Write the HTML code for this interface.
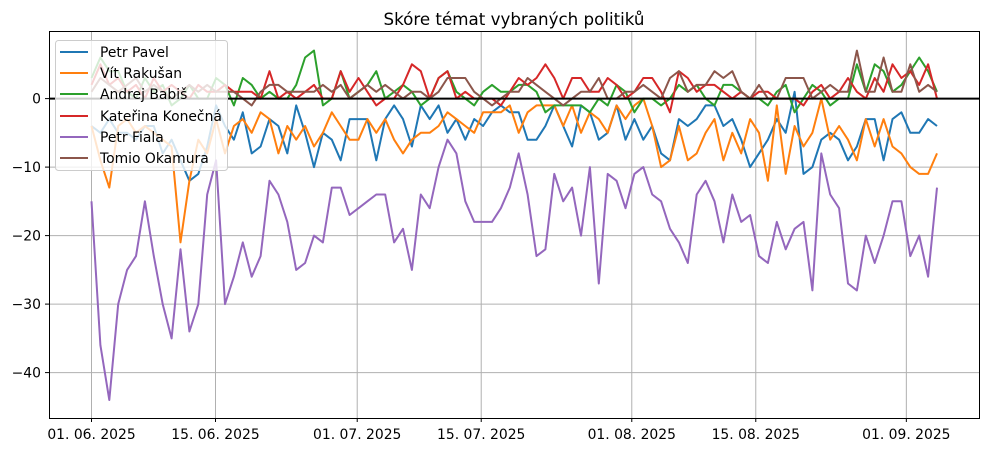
<!DOCTYPE html>
<html><head><meta charset="utf-8"><style>
body{margin:0;background:#fff;}
svg{display:block;font-family:"DejaVu Sans","Liberation Sans",sans-serif;}
</style></head><body>
<svg id="s" width="988" height="452" xmlns="http://www.w3.org/2000/svg">
<rect width="988" height="452" fill="#fff"/>
<text x="514" y="25" font-size="16.7" text-anchor="middle" fill="#000">Skóre témat vybraných politiků</text>
<g id="grid" stroke="#b0b0b0" stroke-width="1"></g>
<g id="lines" fill="none" stroke-width="2" stroke-linejoin="round"></g>
<line x1="49" x2="980" y1="98.6" y2="98.6" stroke="#000" stroke-width="2"/>
<rect x="49.5" y="31.5" width="930" height="387" fill="none" stroke="#000" stroke-width="1"/>
<g id="ticks" font-size="13.9" fill="#000"></g>
<g>
<rect x="55.5" y="40.5" width="172" height="130" rx="3" fill="#fff" fill-opacity="0.8" stroke="#ccc"/>
<g font-size="13.9" fill="#000">
<line x1="60" x2="88" y1="52" y2="52" stroke="#1f77b4" stroke-width="2"/><text x="100" y="57">Petr Pavel</text>
<line x1="60" x2="88" y1="73" y2="73" stroke="#ff7f0e" stroke-width="2"/><text x="100" y="78">Vít Rakušan</text>
<line x1="60" x2="88" y1="94" y2="94" stroke="#2ca02c" stroke-width="2"/><text x="100" y="99">Andrej Babiš</text>
<line x1="60" x2="88" y1="116" y2="116" stroke="#d62728" stroke-width="2"/><text x="100" y="121">Kateřina Konečná</text>
<line x1="60" x2="88" y1="137" y2="137" stroke="#9467bd" stroke-width="2"/><text x="100" y="142">Petr Fiala</text>
<line x1="60" x2="88" y1="158" y2="158" stroke="#8c564b" stroke-width="2"/><text x="100" y="163">Tomio Okamura</text>
</g></g>
</svg>
<script>
var NS="http://www.w3.org/2000/svg";
function X(d){return 91.5+d*8.857;}function Y(v){return 98.6-v*6.85;}
function XD(i){return 91.5+i*8.9;}
var g=document.getElementById('grid'),t=document.getElementById('ticks');
var xt=[[0,"01. 06. 2025"],[14,"15. 06. 2025"],[30,"01. 07. 2025"],[44,"15. 07. 2025"],[61,"01. 08. 2025"],[75,"15. 08. 2025"],[92,"01. 09. 2025"]];
xt.forEach(function(a){var x=X(a[0]);var l=document.createElementNS(NS,'line');l.setAttribute('x1',x);l.setAttribute('x2',x);l.setAttribute('y1',31);l.setAttribute('y2',418);g.appendChild(l);
var k=document.createElementNS(NS,'line');k.setAttribute('x1',x);k.setAttribute('x2',x);k.setAttribute('y1',418);k.setAttribute('y2',422);k.setAttribute('stroke','#000');t.appendChild(k);
var tx=document.createElementNS(NS,'text');tx.setAttribute('x',x);tx.setAttribute('y',439);tx.setAttribute('text-anchor','middle');tx.textContent=a[1];t.appendChild(tx);});
[0,-10,-20,-30,-40].forEach(function(v){var y=Y(v);var l=document.createElementNS(NS,'line');l.setAttribute('x1',49);l.setAttribute('x2',980);l.setAttribute('y1',y);l.setAttribute('y2',y);g.appendChild(l);
var k=document.createElementNS(NS,'line');k.setAttribute('x1',45);k.setAttribute('x2',49);k.setAttribute('y1',y);k.setAttribute('y2',y);k.setAttribute('stroke','#000');t.appendChild(k);
var tx=document.createElementNS(NS,'text');tx.setAttribute('x',41);tx.setAttribute('y',y+5);tx.setAttribute('text-anchor','end');tx.textContent=v==0?"0":"\u2212"+(-v);t.appendChild(tx);});
var D={
"#1f77b4":[-4,-5,-3,-5,-5,-6,-4,-4,-8,-6,-9,-12,-11,-7,-1,-4,-6,-2,-8,-7,-3,-4,-8,-1,-5,-10,-5,-6,-9,-3,-3,-3,-9,-3,-1,-3,-7,-1,-3,-1,-5,-3,-6,-3,-4,-2,-1,-2,-2,-6,-6,-4,-1,-4,-7,-1,-2,-6,-5,-1,-6,-3,-6,-4,-8,-9,-3,-4,-3,-1,-1,-4,-3,-6,-10,-8,-6,-3,-5,1,-11,-10,-6,-5,-6,-9,-7,-3,-3,-9,-3,-2,-5,-5,-3,-4],
"#ff7f0e":[-4,-9,-13,-4,-3,-5,-4,-5,-6,-7,-21,-12,-6,-8,-3,-8,-4,-3,-5,-2,-3,-8,-4,-6,-4,-7,-5,-2,-4,-6,-6,-3,-5,-3,-6,-8,-6,-5,-5,-4,-2,-3,-4,-5,-2,-2,-2,-1,-5,-2,-1,-1,-1,-4,-1,-5,-2,-3,-5,-1,-3,-1,0,-4,-10,-9,-4,-9,-8,-5,-3,-9,-5,-8,-3,-5,-12,-1,-11,-4,-7,-5,0,-6,-4,-6,-9,-3,-7,-3,-7,-8,-10,-11,-11,-8],
"#2ca02c":[3,6,4,4,1,0,3,1,2,-1,0,2,0,0,3,2,-1,3,2,0,1,0,0,2,6,7,-1,0,4,0,1,2,4,0,1,2,1,-1,0,3,4,1,0,-1,1,2,1,1,2,2,1,-2,-1,-1,-1,-1,-2,0,-1,2,1,-2,0,0,-1,0,2,1,2,0,-1,2,2,1,0,0,-1,1,2,-2,0,2,1,-1,0,0,5,1,5,4,1,2,4,6,4,1],
"#d62728":[2,5,2,3,1,2,0,3,1,2,1,0,2,1,1,2,1,1,1,0,4,0,1,0,1,2,0,0,4,1,3,1,-1,0,0,2,5,4,0,3,4,0,1,0,0,0,-1,1,3,2,3,5,3,0,3,3,1,1,3,2,0,1,3,3,1,-2,4,3,1,2,2,1,0,1,0,1,1,0,0,0,-1,1,2,0,1,3,1,0,3,1,5,3,4,2,5,0],
"#9467bd":[-15,-36,-44,-30,-25,-23,-15,-23,-30,-35,-22,-34,-30,-14,-9,-30,-26,-21,-26,-23,-12,-14,-18,-25,-24,-20,-21,-13,-13,-17,-16,-15,-14,-14,-21,-19,-25,-14,-16,-10,-6,-8,-15,-18,-18,-18,-16,-13,-8,-14,-23,-22,-11,-15,-13,-20,-10,-27,-11,-12,-16,-11,-10,-14,-15,-19,-21,-24,-14,-12,-15,-21,-14,-18,-17,-23,-24,-18,-22,-19,-18,-28,-8,-14,-16,-27,-28,-20,-24,-20,-15,-15,-23,-20,-26,-13],
"#8c564b":[1,3,2,1,2,3,1,2,1,0,1,2,1,2,1,1,1,0,-1,1,2,2,1,1,1,1,2,1,2,0,1,2,1,2,1,0,1,1,0,1,3,3,3,1,0,-1,0,1,1,3,2,1,0,-1,0,1,1,3,0,0,1,1,2,1,0,3,4,1,2,2,4,3,4,1,0,2,0,0,3,3,3,0,1,2,1,1,7,1,1,6,1,1,5,1,2,1]
};
var L=document.getElementById('lines');
["#1f77b4","#ff7f0e","#2ca02c","#d62728","#9467bd","#8c564b"].forEach(function(c){var p=document.createElementNS(NS,'polyline');
p.setAttribute('points',D[c].map(function(v,i){return XD(i).toFixed(1)+","+Y(v).toFixed(1);}).join(" "));p.setAttribute('stroke',c);L.appendChild(p);});
</script>
</body></html>
